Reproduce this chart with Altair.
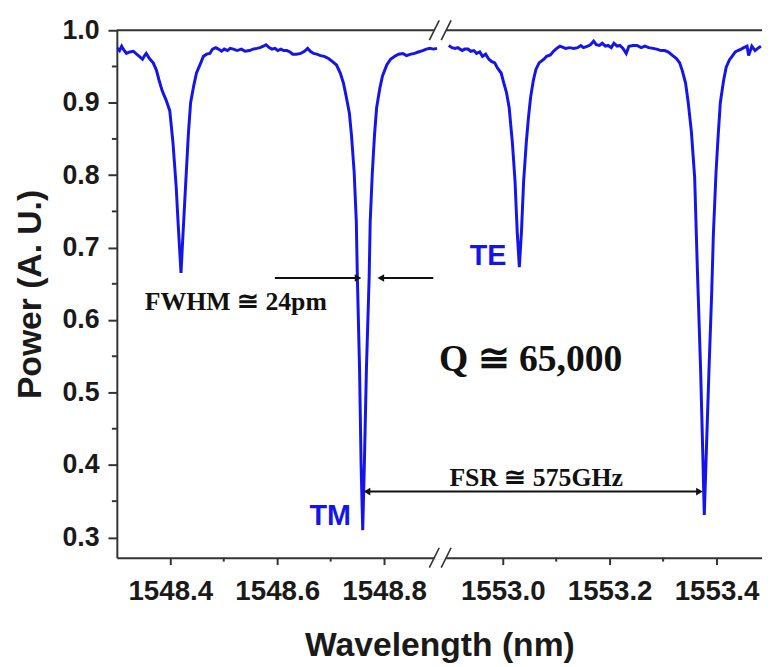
import altair as alt
import pandas as pd

# ---------------- data ----------------
# left part of the broken axis (1548.3 - 1548.9 nm)
wl_left = [1548.300, 1548.305, 1548.309, 1548.312, 1548.318, 1548.324, 1548.331, 1548.337, 1548.342, 1548.348,
           1548.352, 1548.355, 1548.361, 1548.368, 1548.374, 1548.379, 1548.385, 1548.392, 1548.399, 1548.405,
           1548.411, 1548.415, 1548.420, 1548.424, 1548.429, 1548.434, 1548.438, 1548.444, 1548.449, 1548.457,
           1548.462, 1548.468, 1548.474, 1548.479, 1548.485, 1548.490, 1548.496, 1548.501, 1548.507, 1548.512,
           1548.518, 1548.525, 1548.533, 1548.540, 1548.548, 1548.555, 1548.562, 1548.568, 1548.574, 1548.579,
           1548.585, 1548.590, 1548.596, 1548.601, 1548.607, 1548.612, 1548.618, 1548.624, 1548.629, 1548.636,
           1548.644, 1548.651, 1548.657, 1548.662, 1548.668, 1548.674, 1548.681, 1548.688, 1548.696, 1548.703,
           1548.711, 1548.718, 1548.724, 1548.729, 1548.735, 1548.739, 1548.744, 1548.748, 1548.750, 1548.754,
           1548.757, 1548.760, 1548.763, 1548.767, 1548.772, 1548.774, 1548.778, 1548.782, 1548.786, 1548.792,
           1548.797, 1548.805, 1548.812, 1548.820, 1548.827, 1548.835, 1548.842, 1548.850, 1548.857, 1548.864,
           1548.872, 1548.879, 1548.886, 1548.892, 1548.899]
pw_left = [0.976, 0.972, 0.978, 0.974, 0.968, 0.970, 0.971, 0.967, 0.964, 0.960,
           0.965, 0.968, 0.961, 0.955, 0.945, 0.931, 0.916, 0.904, 0.889, 0.845,
           0.784, 0.729, 0.665, 0.722, 0.791, 0.859, 0.900, 0.924, 0.941, 0.955,
           0.964, 0.967, 0.968, 0.974, 0.976, 0.974, 0.971, 0.974, 0.972, 0.975,
           0.974, 0.972, 0.974, 0.971, 0.972, 0.974, 0.975, 0.976, 0.978, 0.980,
           0.976, 0.974, 0.975, 0.972, 0.974, 0.972, 0.972, 0.970, 0.967, 0.967,
           0.968, 0.971, 0.975, 0.971, 0.968, 0.967, 0.965, 0.964, 0.961, 0.957,
           0.952, 0.941, 0.927, 0.909, 0.886, 0.855, 0.804, 0.736, 0.658, 0.535,
           0.399, 0.310, 0.399, 0.535, 0.658, 0.736, 0.804, 0.855, 0.893, 0.920,
           0.937, 0.952, 0.960, 0.964, 0.967, 0.968, 0.965, 0.967, 0.968, 0.970,
           0.972, 0.974, 0.975, 0.974, 0.975]

# right part of the broken axis (1552.9 - 1553.5 nm)
wl_right = [1552.899, 1552.905, 1552.911, 1552.916, 1552.924, 1552.929, 1552.935, 1552.940, 1552.946, 1552.951,
            1552.957, 1552.962, 1552.968, 1552.974, 1552.979, 1552.985, 1552.990, 1552.997, 1553.002, 1553.007,
            1553.012, 1553.018, 1553.023, 1553.027, 1553.031, 1553.035, 1553.039, 1553.044, 1553.048, 1553.052,
            1553.057, 1553.062, 1553.068, 1553.077, 1553.082, 1553.089, 1553.095, 1553.101, 1553.107, 1553.114,
            1553.118, 1553.125, 1553.133, 1553.140, 1553.146, 1553.151, 1553.159, 1553.164, 1553.170, 1553.175,
            1553.181, 1553.186, 1553.192, 1553.197, 1553.203, 1553.208, 1553.214, 1553.219, 1553.225, 1553.231,
            1553.236, 1553.244, 1553.251, 1553.259, 1553.266, 1553.273, 1553.281, 1553.288, 1553.296, 1553.303,
            1553.310, 1553.318, 1553.325, 1553.331, 1553.336, 1553.342, 1553.347, 1553.353, 1553.359, 1553.364,
            1553.370, 1553.374, 1553.377, 1553.380, 1553.386, 1553.391, 1553.394, 1553.399, 1553.403, 1553.407,
            1553.413, 1553.418, 1553.424, 1553.429, 1553.435, 1553.440, 1553.446, 1553.451, 1553.457, 1553.460,
            1553.466, 1553.472, 1553.477, 1553.483]
pw_right = [0.979, 0.976, 0.975, 0.976, 0.972, 0.974, 0.974, 0.971, 0.972, 0.968,
            0.970, 0.964, 0.967, 0.960, 0.957, 0.955, 0.948, 0.941, 0.927, 0.914,
            0.893, 0.845, 0.791, 0.722, 0.673, 0.722, 0.791, 0.845, 0.879, 0.907,
            0.930, 0.946, 0.955, 0.960, 0.964, 0.966, 0.971, 0.975, 0.978, 0.976,
            0.975, 0.976, 0.975, 0.976, 0.979, 0.976, 0.978, 0.980, 0.985, 0.980,
            0.979, 0.982, 0.978, 0.979, 0.976, 0.982, 0.978, 0.979, 0.975, 0.968,
            0.978, 0.979, 0.979, 0.976, 0.978, 0.976, 0.975, 0.974, 0.972, 0.972,
            0.970, 0.965, 0.961, 0.955, 0.944, 0.927, 0.900, 0.859, 0.797, 0.672,
            0.535, 0.422, 0.331, 0.399, 0.535, 0.640, 0.718, 0.804, 0.855, 0.900,
            0.930, 0.949, 0.959, 0.964, 0.970, 0.972, 0.974, 0.976, 0.978, 0.965,
            0.978, 0.972, 0.975, 0.978]

# axis ranges of the two parts
left_range = [1548.3, 1548.905]
right_range = [1552.883, 1553.485]
x_major_left = [1548.4, 1548.6, 1548.8]
x_major_right = [1553.0, 1553.2, 1553.4]
x_minor_left = [1548.5, 1548.7]
x_minor_right = [1553.1, 1553.3]
y_major = [0.3, 0.4, 0.5, 0.6, 0.7, 0.8, 0.9, 1.0]
y_minor = [0.35, 0.45, 0.55, 0.65, 0.75, 0.85, 0.95]
y_range = [0.272, 1.0]

# annotations (wavelength, power)
mode_labels = ["TM", "TE"]
mode_wl = [1548.738, 1553.007]
mode_pw = [0.329, 0.688]

note_small = ["FWHM \u2245 24pm", "FSR \u2245 575GHz"]
note_small_wl = [1548.5226, 1553.0624]
note_small_pw = [0.6247, 0.3824]
note_big = ["Q \u2245 65,000"]
note_big_wl = [1553.0522]
note_big_pw = [0.545]

# arrows: (tail wl, tip wl, power)
fwhm_arrows = [(1548.5957, 1548.7587, 0.658), (1548.892, 1548.7864, 0.658)]
fsr_arrow = (1548.7606, 1553.3754, 0.3632)

# ---------------- broken-axis mapping ----------------
OFFSET = round(right_range[0] - left_range[1], 4)


def to_p(w):
    return w - OFFSET if w > 1550 else w


W, H = 652, 533
PX_PER_NM = W / (right_range[1] - OFFSET - left_range[0])

curve = pd.DataFrame(
    [{"p": to_p(w), "v": v, "seg": "L"} for w, v in zip(wl_left, pw_left)]
    + [{"p": to_p(w), "v": v, "seg": "R"} for w, v in zip(wl_right, pw_right)]
)

BLUE = "#1414ec"
AX = "#333333"

xscale = alt.Scale(domain=[left_range[0], right_range[1] - OFFSET], nice=False, zero=False)
yscale = alt.Scale(domain=y_range, nice=False, zero=False)

label_expr = (f"datum.value > {left_range[1]} ? format(datum.value + {OFFSET}, '.1f')"
              f" : format(datum.value, '.1f')")

x_axis = alt.Axis(values=[to_p(v) for v in x_major_left + x_major_right], labelExpr=label_expr,
                  grid=False, tickSize=7, tickWidth=2, tickColor=AX, domainColor=AX, domainWidth=2,
                  labelFont="Liberation Sans", labelFontWeight="bold", labelFontSize=28,
                  labelColor="#1a1a1a", labelPadding=13,
                  titleFont="Liberation Sans", titleFontWeight="bold", titleFontSize=34,
                  titleColor="#1a1a1a", titlePadding=24)
y_axis = alt.Axis(values=y_major, format=".1f", grid=False, tickSize=9, tickWidth=2, tickColor=AX,
                  domainColor=AX, domainWidth=2,
                  labelFont="Liberation Sans", labelFontWeight="bold", labelFontSize=27,
                  labelColor="#1a1a1a", labelPadding=9,
                  titleFont="Liberation Sans", titleFontWeight="bold", titleFontSize=34,
                  titleColor="#1a1a1a", titlePadding=15)

X = alt.X("p:Q", scale=xscale, axis=x_axis, title="Wavelength (nm)")
Y = alt.Y("v:Q", scale=yscale, axis=y_axis, title="Power (A. U.)")

line = alt.Chart(curve).mark_line(color=BLUE, strokeWidth=3, clip=True).encode(
    x=X, y=Y, detail="seg:N", order="p:Q")

# frame top line
top_df = pd.DataFrame({"v": [y_range[1]]})
top_line = alt.Chart(top_df).mark_rule(color=AX, strokeWidth=2).encode(y=Y)

# minor ticks
xminor_df = pd.DataFrame({"p": [to_p(v) for v in x_minor_left + x_minor_right]})
xminor = alt.Chart(xminor_df).mark_rule(color=AX, strokeWidth=2).encode(
    x=X, y=alt.value(H), y2=alt.value(H + 4))
yminor_df = pd.DataFrame({"v": y_minor})
yminor = alt.Chart(yminor_df).mark_rule(color=AX, strokeWidth=2).encode(
    y=Y, x=alt.value(0), x2=alt.value(-5))

# break marks "//" on top and bottom axes
brk_c = [left_range[1] - 6 / PX_PER_NM, left_range[1] + 6 / PX_PER_NM]
dx = 5 / PX_PER_NM
dy = 10 / (H / (y_range[1] - y_range[0]))
brk_rows = []
for yy in (y_range[0], y_range[1]):
    for c in brk_c:
        brk_rows.append({"p": c - dx, "p2": c + dx, "v": yy - dy, "v2": yy + dy})
brk_df = pd.DataFrame(brk_rows)
gap_df = pd.DataFrame([{"p": brk_c[0], "p2": brk_c[1], "v": yy} for yy in (y_range[0], y_range[1])])
gaps = alt.Chart(gap_df).mark_rule(color="white", strokeWidth=4).encode(x=X, x2="p2", y=Y)
breaks = alt.Chart(brk_df).mark_rule(color=AX, strokeWidth=1.6).encode(x=X, x2="p2", y=Y, y2="v2")

# mode labels
mode_df = pd.DataFrame({"p": [to_p(w) for w in mode_wl], "v": mode_pw, "t": mode_labels})
modes = alt.Chart(mode_df).mark_text(font="Liberation Sans", fontWeight="bold", fontSize=29,
                                     color=BLUE, align="right", baseline="middle").encode(
    x=X, y=Y, text="t:N")

small_df = pd.DataFrame({"p": [to_p(w) for w in note_small_wl], "v": note_small_pw, "t": note_small})
smalls = alt.Chart(small_df).mark_text(font="Liberation Serif", fontWeight="bold", fontSize=26,
                                       color="#111111", align="center", baseline="middle").encode(
    x=X, y=Y, text="t:N")
big_df = pd.DataFrame({"p": [to_p(w) for w in note_big_wl], "v": note_big_pw, "t": note_big})
bigs = alt.Chart(big_df).mark_text(font="Liberation Serif", fontWeight="bold", fontSize=38,
                                   color="#111111", align="center", baseline="middle").encode(
    x=X, y=Y, text="t:N")

# arrows
HEAD = 4 / PX_PER_NM
arrow_rows = []
head_r, head_l = [], []
for tail, tip, v in fwhm_arrows:
    tp, hp = to_p(tail), to_p(tip)
    if hp > tp:
        head_r.append({"p": hp - HEAD, "v": v})
        arrow_rows.append({"p": tp, "p2": hp - HEAD, "v": v})
    else:
        head_l.append({"p": hp + HEAD, "v": v})
        arrow_rows.append({"p": tp, "p2": hp + HEAD, "v": v})
a0, a1, av = to_p(fsr_arrow[0]), to_p(fsr_arrow[1]), fsr_arrow[2]
arrow_rows.append({"p": a0 + HEAD, "p2": a1 - HEAD, "v": av})
head_l.append({"p": a0 + HEAD, "v": av})
head_r.append({"p": a1 - HEAD, "v": av})

shafts = alt.Chart(pd.DataFrame(arrow_rows)).mark_rule(color="#111111", strokeWidth=2).encode(
    x=X, x2="p2", y=Y)
heads_r = alt.Chart(pd.DataFrame(head_r)).mark_point(shape="triangle-right", filled=True, size=60,
                                                      color="#111111", opacity=1).encode(x=X, y=Y)
heads_l = alt.Chart(pd.DataFrame(head_l)).mark_point(shape="triangle-left", filled=True, size=60,
                                                     color="#111111", opacity=1).encode(x=X, y=Y)

chart = alt.layer(top_line, xminor, yminor, gaps, breaks, line, shafts, heads_r, heads_l,
                  modes, smalls, bigs).properties(
    width=W, height=H,
    autosize=alt.AutoSizeParams(type="none"),
    padding={"left": 110, "top": 19, "right": 0, "bottom": 107},
    background="white",
).configure_view(stroke=None)

chart.save("out.html", embed_options={"renderer": "svg", "actions": False})
